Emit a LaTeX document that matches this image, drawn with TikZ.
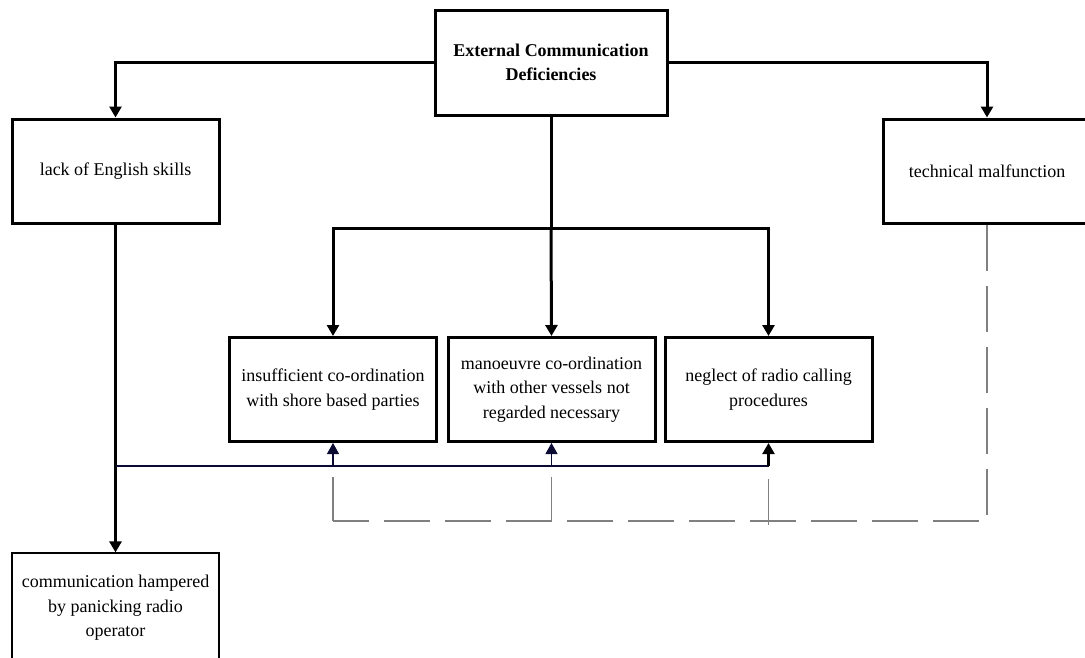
\documentclass[tikz,border=0pt]{standalone}
\usepackage{fontspec}
\setmainfont{Liberation Serif}
\usetikzlibrary{arrows.meta}
\tikzset{
  box/.style={draw, line width=3pt, minimum width=207pt, minimum height=104pt, inner sep=0pt, align=center, font=\fontsize{18}{24.5}\selectfont},
  thinbox/.style={box, line width=1.2pt},
  conn/.style={line width=3pt},
  arr/.style={line width=3pt, -{Triangle[width=12pt,length=11pt]}},
  fb/.style={line width=1.1pt, draw={rgb,255:red,10;green,10;blue,50}},
  fbarr/.style={fb, -{Triangle[width=12pt,length=11pt]}},
  fbarrthick/.style={line width=2.2pt, -{Triangle[width=12pt,length=11pt]}},
  dsh/.style={line width=1.3pt, draw=gray, dash pattern=on 46pt off 15pt},
  gline/.style={line width=1.3pt, draw=gray}
}
\begin{document}
\begin{tikzpicture}[x=1pt,y=-1pt]
\useasboundingbox (0,0) rectangle (1085,657);
\clip (0,0) rectangle (1085,657);
\node[box, minimum width=232pt, minimum height=105pt, font=\fontsize{18}{24.5}\selectfont\bfseries] (top) at (551,62.5) {External Communication\\Deficiencies};
\node[box] (eng) at (115.5,171) {lack of English skills};
\node[box] (tech) at (987,171) {technical malfunction};
\node[box] (b1) at (333,389.5) {insufficient co-ordination\\with shore based parties};
\node[box] (b2) at (551.5,389.5) {manoeuvre co-ordination\\with other vessels not\\regarded necessary};
\node[box] (b3) at (768.5,389.5) {neglect of radio calling\\procedures};
\node[thinbox, minimum height=110pt] (bot) at (115.5,608) {communication hampered\\by panicking radio\\operator};
% top connectors
\draw[arr] (top.west) -| (eng.north);
\draw[arr] (top.east) -| (tech.north);
\coordinate (j) at (551,228);
\draw[conn] (top.south) -- (j);
\draw[arr] (j) -- (b2.north);
\draw[arr] (j) -| (b1.north);
\draw[arr] (j) -| (b3.north);
% left
\draw[arr] (eng.south) -- (bot.north);
% feedback
\coordinate (f0) at (115.5,466);
\coordinate (f1) at (333,466);
\coordinate (f2) at (551.5,466);
\coordinate (f3) at (768.5,466);
\draw[fb] (f0) -- (f3);
\draw[fbarr] (f1) -- (b1.south);
\draw[fbarr] (f2) -- (b2.south);
\draw[fbarrthick] (f3) -- (b3.south);
% dashed
\coordinate (d1) at (987,521);
\coordinate (d2) at (333,521);
\coordinate (d3) at (333,477);
\draw[dsh] (tech.south) -- (d1) -- (d2);
\draw[gline] (d2) -- (d3);
\coordinate (e1) at (551.5,477);
\coordinate (e2) at (551.5,521);
\draw[gline] (e1) -- (e2);
\coordinate (g1) at (768.5,479);
\coordinate (g2) at (768.5,525);
\draw[gline] (g1) -- (g2);
\end{tikzpicture}
\end{document}
